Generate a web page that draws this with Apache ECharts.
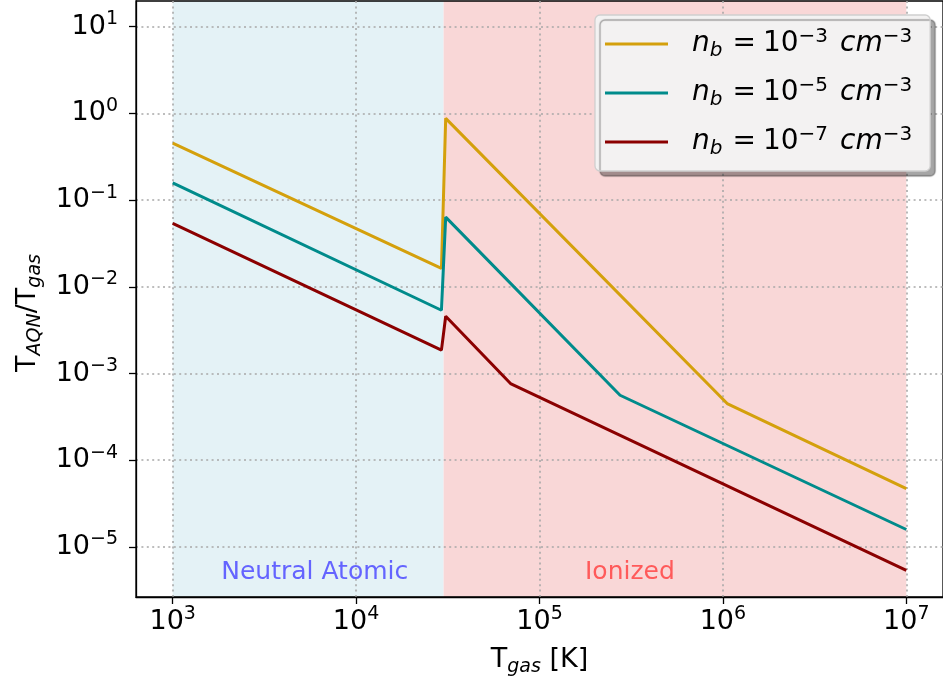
<!DOCTYPE html>
<html><head><meta charset="utf-8">
<script src="https://cdn.jsdelivr.net/npm/echarts@6/dist/echarts.min.js"></script>
<style>html,body{margin:0;padding:0;background:#fff}#c{width:943px;height:687px}</style>
</head><body><div id="c"></div>
<script>
// ---- data ----
const seriesNames = ['nb1e-3', 'nb1e-5', 'nb1e-7'];
const nbExponents = ['−3', '−5', '−7'];
const tgasHigh = [1e3, 2.92e4, 3.08e4, 1.055e6, 1e7];
const ratioHigh = [0.455, 0.0163, 0.875, 4.51e-4, 4.71e-5];
const tgasMid = [1e3, 2.92e4, 3.08e4, 2.75e5, 1e7];
const ratioMid = [0.158, 5.37e-3, 0.0636, 5.62e-4, 1.59e-5];
const tgasLow = [1e3, 2.92e4, 3.08e4, 6.95e4, 1e7];
const ratioLow = [0.0538, 1.86e-3, 4.58e-3, 7.67e-4, 5.38e-6];
const xTicks = [1e3, 1e4, 1e5, 1e6, 1e7];
const yTicks = [1e-5, 1e-4, 1e-3, 1e-2, 1e-1, 1e0, 1e1];
const neutralRange = [1e3, 3e4];
const ionizedRange = [3e4, 1e7];
const regionLabels = ['Neutral Atomic', 'Ionized'];
const regionLabelAt = [[5950, 5.1e-6], [3.11e5, 5.1e-6]];
const xLimits = [Math.pow(10, 2.8), Math.pow(10, 7.2)];
const yLimits = [Math.pow(10, -5.577), Math.pow(10, 1.296)];

// ---- styling ----
const FONT = 'DejaVu Sans';
const colors = ['#d4a00c', '#008b8b', '#8b0000'];
const tickRich = {
  b: { fontFamily: FONT, fontSize: 27, lineHeight: 34, color: '#000' },
  s: { fontFamily: FONT, fontSize: 19, lineHeight: 19, verticalAlign: 'top', color: '#000' }
};
function powLabel(v) {
  const e = Math.round(Math.log10(v));
  return '{b|10}{s|' + (e < 0 ? '−' + (-e) : String(e)) + '}';
}
const gridLine = { show: true, lineStyle: { color: '#a8a8a8', width: 1.6, type: [2, 3.4] } };
const nameRich = {
  r: { fontFamily: FONT, fontSize: 27, lineHeight: 34, color: '#000' },
  sb: { fontFamily: FONT, fontStyle: 'italic', fontSize: 19, lineHeight: 19, verticalAlign: 'bottom', color: '#000' }
};

const pairs = [[tgasHigh, ratioHigh], [tgasMid, ratioMid], [tgasLow, ratioLow]];
const lineSeries = pairs.map((p, i) => ({
  name: seriesNames[i],
  type: 'line',
  symbol: 'none',
  showSymbol: false,
  data: p[0].map((x, j) => [x, p[1][j]]),
  lineStyle: { color: colors[i], width: 3 },
  itemStyle: { color: colors[i] },
  z: 3
}));

const bgSeries = {
  name: 'regions',
  type: 'line',
  data: [],
  markArea: {
    silent: true,
    z: -1,
    data: [
      [{ xAxis: neutralRange[0], itemStyle: { color: '#e4f2f6' } }, { xAxis: neutralRange[1] }],
      [{ xAxis: ionizedRange[0], itemStyle: { color: '#f9d7d7' } }, { xAxis: ionizedRange[1] }]
    ]
  },
  markPoint: {
    silent: true,
    symbol: 'circle',
    symbolSize: 0,
    data: regionLabels.map((t, i) => ({
      coord: regionLabelAt[i],
      label: {
        show: true, position: 'inside', formatter: t,
        fontFamily: FONT, fontSize: 25,
        color: i === 0 ? '#6464ff' : '#ff5a5a'
      }
    }))
  }
};

const chart = echarts.init(document.getElementById('c'), null, { renderer: 'canvas' });
chart.setOption({
  animation: false,
  backgroundColor: '#fff',
  grid: { left: 136, top: 1, width: 810, height: 596, show: true, borderColor: '#000', borderWidth: 1.3, backgroundColor: 'transparent' },
  legend: {
    data: seriesNames,
    orient: 'vertical',
    left: 595, top: 15,
    icon: 'rect',
    itemWidth: 63, itemHeight: 3, itemGap: 15,
    padding: [12, 18, 12, 10],
    backgroundColor: '#f3f2f2',
    borderColor: '#cfcfcf', borderWidth: 1.3, borderRadius: 5,
    shadowColor: 'rgba(0,0,0,0.35)', shadowBlur: 1, shadowOffsetX: 5, shadowOffsetY: 5,
    formatter: function (name) {
      const k = seriesNames.indexOf(name);
      return '{g|}{i|n}{sb|b}{s1|}{r|=}{s2|}{r|10}{sp|' + nbExponents[k] + '}{s3|}{i|cm}{sp|−3}';
    },
    textStyle: {
      rich: {
        g: { width: 19 },
        s1: { width: 10 },
        s2: { width: 7 },
        s3: { width: 12 },
        i: { fontFamily: FONT, fontStyle: 'italic', fontSize: 28, lineHeight: 34, color: '#000' },
        r: { fontFamily: FONT, fontSize: 28, lineHeight: 34, color: '#000' },
        sb: { fontFamily: FONT, fontStyle: 'italic', fontSize: 20, lineHeight: 20, verticalAlign: 'bottom', color: '#000' },
        sp: { fontFamily: FONT, fontSize: 20, lineHeight: 20, verticalAlign: 'top', color: '#000' }
      }
    }
  },
  xAxis: {
    type: 'log', logBase: 10,
    min: xLimits[0], max: xLimits[1],
    axisLine: { show: true, lineStyle: { color: '#000', width: 1.3 } },
    axisTick: { show: true, inside: false, length: 7, customValues: xTicks, lineStyle: { color: '#000', width: 1.3 } },
    axisLabel: { show: true, margin: 8, customValues: xTicks, formatter: powLabel, rich: tickRich },
    splitLine: gridLine,
    minorTick: { show: false }, minorSplitLine: { show: false },
    name: '{r|T}{sb|gas}{r| [K]}',
    nameLocation: 'middle', nameGap: 46,
    nameTextStyle: { rich: nameRich }
  },
  yAxis: {
    type: 'log', logBase: 10,
    min: yLimits[0], max: yLimits[1],
    axisLine: { show: true, lineStyle: { color: '#000', width: 1.3 } },
    axisTick: { show: true, inside: false, length: 7, customValues: yTicks, lineStyle: { color: '#000', width: 1.3 } },
    axisLabel: { show: true, margin: 18, customValues: yTicks, formatter: powLabel, rich: tickRich },
    splitLine: gridLine,
    name: '{r|T}{sb|AQN}{r|/T}{sb|gas}',
    nameLocation: 'middle', nameGap: 90, nameRotate: 90,
    nameTextStyle: { rich: nameRich, padding: [0, 28, 0, 0] }
  },
  series: [bgSeries].concat(lineSeries)
});
</script>
</body></html>
